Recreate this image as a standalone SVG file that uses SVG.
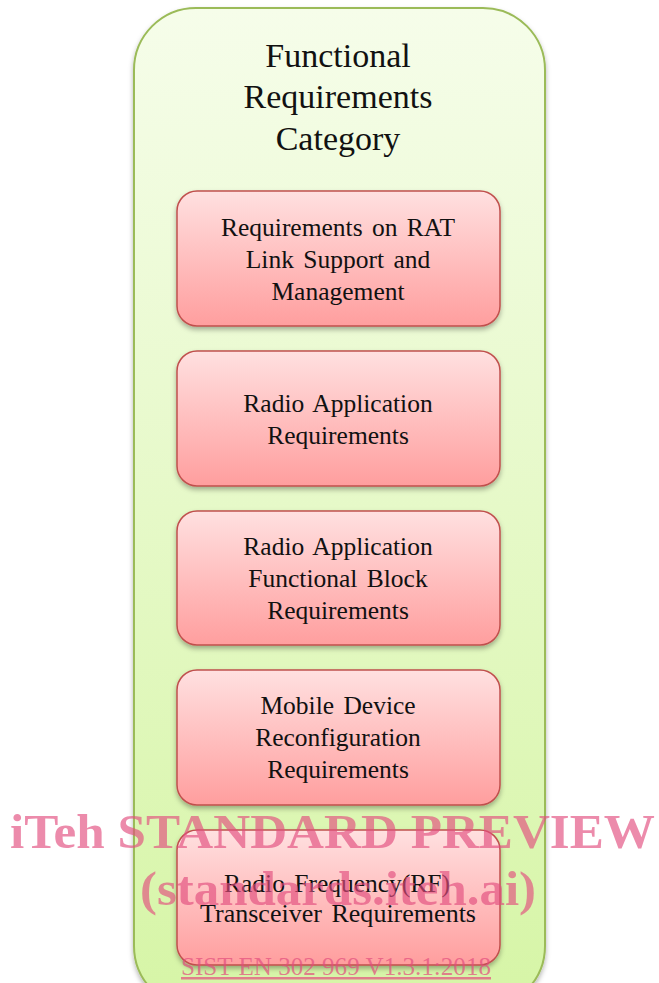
<svg xmlns="http://www.w3.org/2000/svg" width="659" height="983" viewBox="0 0 659 983">
<defs>
<linearGradient id="gOuter" x1="0" y1="0" x2="0" y2="1">
<stop offset="0" stop-color="#f6fdea"/>
<stop offset="1" stop-color="#d6f5a6"/>
</linearGradient>
<linearGradient id="gBox" x1="0" y1="0" x2="0" y2="1">
<stop offset="0" stop-color="#ffe0e0"/>
<stop offset="1" stop-color="#ff9e9e"/>
</linearGradient>
<filter id="sh" x="-10%" y="-10%" width="120%" height="130%">
<feDropShadow dx="0" dy="3" stdDeviation="2.5" flood-color="#000" flood-opacity="0.3"/>
</filter>
<style>
.box{fill:url(#gBox);stroke:#c0504d;stroke-width:1.5;filter:url(#sh)}
.t{font-family:"Liberation Serif","Times New Roman",serif;font-size:25.5px;fill:#111;text-anchor:middle;word-spacing:3px}
.ti{font-family:"Liberation Serif","Times New Roman",serif;font-size:34px;fill:#111;text-anchor:middle}
.wm{font-family:"Liberation Serif","Times New Roman",serif;font-weight:bold;font-size:48px;fill:#e24d7e;fill-opacity:0.65}
.wm2{font-family:"Liberation Serif","Times New Roman",serif;font-size:25px;fill:#e24d7e;fill-opacity:0.7;text-decoration:underline}
</style>
</defs>
<g id="container">
<rect x="134" y="8" width="411" height="1000" rx="62" ry="62" fill="url(#gOuter)" stroke="#9bbb59" stroke-width="2" filter="url(#sh)"/>
<text class="ti" x="338" y="67">Functional</text>
<text class="ti" x="338" y="108">Requirements</text>
<text class="ti" x="338" y="150">Category</text>
</g>
<g id="connectors"/>
<g id="n1">
<rect class="box" x="177" y="191" width="323" height="135" rx="20"/>
<text class="t" x="338" y="236">Requirements on RAT</text>
<text class="t" x="338" y="268">Link Support and</text>
<text class="t" x="338" y="300">Management</text>
</g>
<g id="n2">
<rect class="box" x="177" y="351" width="323" height="135" rx="20"/>
<text class="t" x="338" y="412">Radio Application</text>
<text class="t" x="338" y="444">Requirements</text>
</g>
<g id="n3">
<rect class="box" x="177" y="511" width="323" height="134" rx="20"/>
<text class="t" x="338" y="555">Radio Application</text>
<text class="t" x="338" y="587">Functional Block</text>
<text class="t" x="338" y="619">Requirements</text>
</g>
<g id="n4">
<rect class="box" x="177" y="670" width="323" height="135" rx="20"/>
<text class="t" x="338" y="714">Mobile Device</text>
<text class="t" x="338" y="746">Reconfiguration</text>
<text class="t" x="338" y="778">Requirements</text>
</g>
<g id="n5">
<rect class="box" x="177" y="830" width="323" height="135" rx="20"/>
<text class="t" x="337" y="892" textLength="226" lengthAdjust="spacingAndGlyphs">Radio Frequency(RF)</text>
<text class="t" x="338" y="922" textLength="276" lengthAdjust="spacingAndGlyphs">Transceiver Requirements</text>
</g>
<g id="watermark">
<text class="wm" x="10" y="848" textLength="645" lengthAdjust="spacingAndGlyphs">iTeh STANDARD PREVIEW</text>
<text class="wm" x="140" y="905" textLength="396" lengthAdjust="spacingAndGlyphs">(standards.iteh.ai)</text>
<text class="wm2" x="181" y="975" textLength="310" lengthAdjust="spacingAndGlyphs">SIST EN 302 969 V1.3.1:2018</text>
</g>
</svg>
